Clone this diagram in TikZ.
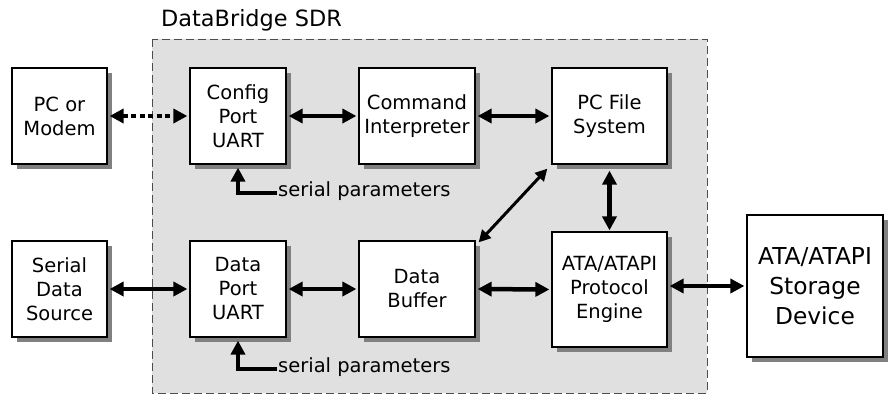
\documentclass[tikz,border=0pt]{standalone}
\usepackage{fontspec}
\setmainfont{DejaVu Sans}
\usetikzlibrary{arrows.meta}
\definecolor{shadowc}{RGB}{128,128,128}
\definecolor{regionc}{RGB}{224,224,224}
\begin{document}
\begin{tikzpicture}[x=1pt,y=-1pt,
  blk/.style={draw, line width=1.2pt, fill=white, rectangle, inner sep=0pt, align=center,
    font=\fontsize{19.5}{24}\selectfont},
  shadowbox/.style={fill=shadowc},
  conn/.style={line width=4.5pt, {Triangle[length=14pt,width=14pt]}-{Triangle[length=14pt,width=14pt]}},
  thin conn/.style={line width=3pt, {Triangle[length=12pt,width=12pt]}-{Triangle[length=12pt,width=12pt]}},
  uni/.style={line width=4.5pt, line join=miter, -{Triangle[length=14pt,width=14pt]}},
  lbl/.style={font=\fontsize{19.5}{22}\selectfont, inner sep=0pt, anchor=west}]
\useasboundingbox (0,0) rectangle (888,394);
\fill[regionc] (152,39) rectangle (707,393);
\draw[black!70, line width=1pt, dash pattern=on 8pt off 4pt] (152,39) rectangle (707,393);
\node[font=\fontsize{22.4}{26}\selectfont, anchor=west, inner sep=0pt] (title) at (161,20) {DataBridge SDR};

% shadows
\fill[shadowbox] (16.5,72.5) rectangle (111.5,168.5);
\fill[shadowbox] (194.5,72.5) rectangle (290.5,168.5);
\fill[shadowbox] (363.5,72.5) rectangle (479.5,168.5);
\fill[shadowbox] (556.5,72.5) rectangle (671.5,168.5);
\fill[shadowbox] (16.5,245.5) rectangle (111.5,341.5);
\fill[shadowbox] (194.5,245.5) rectangle (290.5,341.5);
\fill[shadowbox] (363.5,245.5) rectangle (479.5,341.5);
\fill[shadowbox] (556.5,236.5) rectangle (671.5,351.5);
\fill[shadowbox] (751.5,219.5) rectangle (887.5,361.5);

\node[blk, minimum width=95pt, minimum height=96pt] (pc) at (59.5,116) {PC or\\Modem};
\node[blk, minimum width=96pt, minimum height=96pt] (cfg) at (238,116) {Config\\Port\\UART};
\node[blk, minimum width=116pt, minimum height=96pt] (cmd) at (417,116) {Command\\Interpreter};
\node[blk, minimum width=115pt, minimum height=96pt] (fs) at (609.5,116) {PC File\\System};
\node[blk, minimum width=95pt, minimum height=96pt] (src) at (59.5,289) {Serial\\Data\\Source};
\node[blk, minimum width=96pt, minimum height=96pt] (dp) at (238,289) {Data\\Port\\UART};
\node[blk, minimum width=116pt, minimum height=96pt] (buf) at (417,289) {Data\\Buffer};
\node[blk, minimum width=115pt, minimum height=115pt] (eng) at (609.5,289.5) {ATA/ATAPI\\Protocol\\Engine};
\node[blk, minimum width=136pt, minimum height=142pt, font=\fontsize{23.3}{30}\selectfont] (dev) at (815,286) {ATA/ATAPI\\Storage\\Device};

\draw[conn, dash pattern=on 5pt off 3.5pt] ([xshift=2pt]pc.east) -- ([xshift=-2pt]cfg.west);
\draw[conn] ([xshift=2pt]cfg.east) -- ([xshift=-2pt]cmd.west);
\draw[conn] ([xshift=2pt]cmd.east) -- ([xshift=-2pt]fs.west);
\draw[conn] ([xshift=2pt]src.east) -- ([xshift=-2pt]dp.west);
\draw[conn] ([xshift=2pt]dp.east) -- ([xshift=-2pt]buf.west);
\draw[conn] ([xshift=2pt]buf.east) -- ([xshift=-2pt]eng.west);
\draw[conn] ([xshift=2pt]eng.east |- dev) -- ([xshift=-2pt]dev.west);
\draw[conn] ([yshift=-6pt]fs.south) -- ([yshift=1pt]eng.north);
\draw[thin conn] ([xshift=3pt,yshift=-2pt]buf.north east) -- ([xshift=-4pt,yshift=-4pt]fs.south west);

\node[lbl] (sp1) at (278,191) {serial parameters};
\node[lbl] (sp2) at (278,367) {serial parameters};
\draw[uni] ([xshift=-1pt]sp1.west |- 0,193) -| ([yshift=-3pt]cfg.south);
\draw[uni] ([xshift=-1pt]sp2.west |- 0,369) -| ([yshift=-3pt]dp.south);
\end{tikzpicture}
\end{document}
